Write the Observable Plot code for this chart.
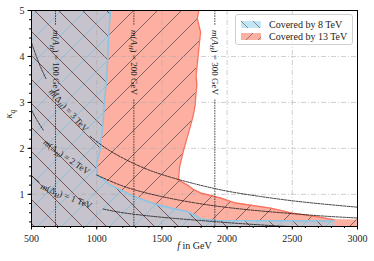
<!DOCTYPE html>
<html>
<head>
<meta charset="utf-8">
<script src="https://cdn.jsdelivr.net/npm/d3@7"></script>
<script src="https://cdn.jsdelivr.net/npm/@observablehq/plot@0.6"></script>
<style>
  html, body { margin: 0; padding: 0; background: white; }
  #wrap { position: relative; width: 374px; height: 261px; font-family: "Liberation Serif", serif; }
  #legend { position: absolute; left: 235px; top: 14px; width: 116px; height: 29px;
    border: 1px solid #cfcfcf; border-radius: 3px; background: rgba(255,255,255,0.85);
    font-size: 10px; color: #222; }
  .row { position: absolute; left: 5px; height: 12px; display: flex; align-items: center; white-space: nowrap; }
  .row svg { margin-right: 8px; }
</style>
</head>
<body>
<svg width="0" height="0" style="position:absolute">
  <defs>
    <pattern id="hatchRed" patternUnits="userSpaceOnUse" width="24" height="24">
      <path d="M-6,6L6,-6M0,24L24,0M18,30L30,18" stroke="#5a5050" stroke-width="0.8" fill="none"/>
    </pattern>
    <pattern id="hatchBlue" patternUnits="userSpaceOnUse" width="24" height="24">
      <path d="M-6,6L6,-6M0,24L24,0M18,30L30,18" stroke="#86bfdc" stroke-width="0.9" fill="none"/>
      <path d="M-6,18L6,30M0,0L24,24M18,-6L30,6" stroke="#6e4a46" stroke-width="0.9" fill="none"/>
    </pattern>
    <pattern id="swBlue" patternUnits="userSpaceOnUse" width="12" height="12">
      <path d="M-3,9L3,15M0,0L12,12M9,-3L15,3" stroke="#707070" stroke-width="0.8" fill="none"/>
    </pattern>
    <pattern id="swRed" patternUnits="userSpaceOnUse" width="12" height="12">
      <path d="M-3,3L3,-3M0,12L12,0M9,15L15,9" stroke="#707070" stroke-width="0.8" fill="none"/>
    </pattern>
  </defs>
</svg>
<div id="wrap">
  <div id="chart"></div>
  <div id="legend">
    <div class="row" style="top:3px"><svg width="20" height="7"><rect width="20" height="7" fill="#c3e6f5"/><rect width="20" height="7" fill="url(#swBlue)"/></svg><span id="leg1"></span></div>
    <div class="row" style="top:15px"><svg width="20" height="7"><rect width="20" height="7" fill="#fdb0a2"/><rect width="20" height="7" fill="url(#swRed)"/></svg><span id="leg2"></span></div>
  </div>
</div>
<script>
// ---- data ----
const xDomain = [500, 3000];
const yDomain = [0.3, 5];
const xTicks = [500, 1000, 1500, 2000, 2500, 3000];
const yTicks = [1, 2, 3, 4, 5];
const xMinor = d3.range(500, 3001, 100);
const yMinor = d3.range(0.4, 5.001, 0.2);
const xGrid = [1000, 1500, 2000, 2500];
const yGrid = [1, 2, 3, 4];
const legendLabels = ["Covered by 8 TeV", "Covered by 13 TeV"];
const xLabel = "f in GeV";
const yLabel = "κq";

// 13 TeV covered region boundary (kappa_q, f)
const redK = [5.0, 4.83, 4.53, 4.17, 3.81, 3.59, 3.38, 3.16, 2.94, 2.72, 2.5, 2.2, 1.96, 1.6, 1.31, 1.2, 1.1, 1.03, 0.92, 0.81, 0.70, 0.59, 0.51, 0.45, 0.44, 0.3];
const redF = [1783, 1771, 1796, 1783, 1770, 1762, 1768, 1760, 1755, 1740, 1720, 1690, 1666, 1635, 1627, 1697, 1745, 1796, 1950, 2065, 2333, 2502, 2694, 2817, 3000, 3000];

// 8 TeV covered region boundary (kappa_q, f)
const blueK = [5.0, 4.5, 3.77, 3.48, 3.05, 2.6, 2.33, 1.96, 1.68, 1.42, 1.2, 0.96, 0.77, 0.62, 0.50, 0.46, 0.43, 0.42, 0.3];
const blueF = [1106, 1093, 1081, 1075, 1060, 1050, 1040, 1025, 1000, 1006, 1106, 1282, 1466, 1697, 1780, 1800, 1900, 2820, 2835];

// m(Delta_H) contours, read as segments (gaps where the labels sit)
const contourSegs = [
  {name: "3A", f: [500, 555, 610], k: [4.30, 3.87, 3.52]},
  {name: "3B", f: [950, 1100, 1300, 1500, 1750, 2000, 2250, 2500, 2750, 3000], k: [2.26, 1.95, 1.65, 1.43, 1.23, 1.07, 0.955, 0.86, 0.785, 0.72]},
  {name: "2A", f: [500, 545, 590], k: [2.83, 2.60, 2.40]},
  {name: "2B", f: [1000, 1150, 1300, 1500, 1750, 2000, 2250, 2500, 2750, 3000], k: [1.42, 1.235, 1.09, 0.95, 0.815, 0.715, 0.64, 0.58, 0.525, 0.485]},
  {name: "1A", f: [500, 530, 560], k: [1.41, 1.33, 1.26]},
  {name: "1B", f: [1050, 1200, 1400, 1600, 1800, 2000, 2200, 2400, 2480], k: [0.68, 0.60, 0.53, 0.475, 0.43, 0.385, 0.345, 0.31, 0.30]}
];
const contourLabels = ["m(Δ_H) = 1 TeV", "m(Δ_H) = 2 TeV", "m(Δ_H) = 3 TeV"];
const contourLabelF = [768, 768, 784];
const contourLabelK = [0.96, 1.81, 2.83];
const contourLabelAngle = [22, 35, 48];

// m(A_H) vertical lines
const mAHf = [684, 1285, 1906];
const mAHlabels = ["m(A_H) = 100 GeV", "m(A_H) = 200 GeV", "m(A_H) = 300 GeV"];
const mAHlabelK = 3.87;
const mAHgap = [3.07, 4.68];

// ---- tables ----
const red = redK.map((k, i) => ({k, f: redF[i], f0: xDomain[0]}));
const blue = blueK.map((k, i) => ({k, f: blueF[i], f0: xDomain[0]}));
const contours = contourSegs.flatMap(s => s.f.map((f, i) => ({seg: s.name, f, k: s.k[i]})));
const cLabels = contourLabels.map((t, i) => ({t, f: contourLabelF[i], k: contourLabelK[i], a: contourLabelAngle[i]}));
const vRules = mAHf.flatMap(f => [{f, k1: yDomain[0], k2: mAHgap[0]}, {f, k1: mAHgap[1], k2: yDomain[1]}]);
const vLabels = mAHf.map((f, i) => ({f, k: mAHlabelK, t: mAHlabels[i]}));

const chart = Plot.plot({
  width: 374, height: 261,
  marginLeft: 31, marginRight: 17, marginTop: 10, marginBottom: 35,
  x: {domain: xDomain, label: null},
  y: {domain: yDomain, label: null},
  style: {fontFamily: "Liberation Serif", fontSize: "10px", color: "black", background: "white", overflow: "visible"},
  marks: [
    Plot.areaX(red, {y: "k", x1: "f0", x2: "f", fill: "#fdb0a2", curve: "linear"}),
    Plot.areaX(red, {y: "k", x1: "f0", x2: "f", fill: "url(#hatchRed)", curve: "linear"}),
    Plot.areaX(blue, {y: "k", x1: "f0", x2: "f", fill: "#c7c3cc", curve: "linear"}),
    Plot.areaX(blue, {y: "k", x1: "f0", x2: "f", fill: "url(#hatchBlue)", curve: "linear"}),
    Plot.gridX(xGrid, {stroke: "#a8a8a8", strokeOpacity: 0.55, strokeDasharray: "5,2,1,2"}),
    Plot.gridY(yGrid, {stroke: "#a8a8a8", strokeOpacity: 0.55, strokeDasharray: "5,2,1,2"}),
    Plot.line(red.filter(d => d.f < xDomain[1]), {x: "f", y: "k", stroke: "#f8735f", strokeWidth: 1.4}),
    Plot.line(blue.filter(d => d.k > 0.41), {x: "f", y: "k", stroke: "#88c6e6", strokeWidth: 1.6}),
    Plot.line(contours, {x: "f", y: "k", z: "seg", stroke: "#111", strokeWidth: 0.8, strokeDasharray: "2.5,1.2", curve: "natural"}),
    Plot.ruleX(vRules, {x: "f", y1: "k1", y2: "k2", stroke: "#333", strokeWidth: 0.9, strokeDasharray: "1.6,1"}),
    Plot.text(vLabels, {x: "f", y: "k", text: "t", rotate: 90, fontSize: 9, fill: "#222"}),
    Plot.text(cLabels, {x: "f", y: "k", text: "t", rotate: "a", fontSize: 9, fill: "#222"}),
    Plot.frame({stroke: "black", strokeWidth: 1}),
    Plot.axisX(xTicks, {tickSize: 3.5, tickPadding: 4.5, fontSize: 10, label: null, tickFormat: d => String(d), fill: "#222"}),
    Plot.axisX(xMinor, {tickSize: 2, tickFormat: () => "", label: null}),
    Plot.axisY(yTicks, {tickSize: 3.5, tickPadding: 3.5, fontSize: 10, label: null, tickFormat: d => String(d), fill: "#222"}),
    Plot.axisY(yMinor, {tickSize: 2, tickFormat: () => "", label: null}),
    Plot.text([xLabel], {frameAnchor: "bottom", dy: 22, fontSize: 10, fill: "#222"}),
    Plot.text([yLabel], {frameAnchor: "left", dx: -23, rotate: -90, fontSize: 10.5, fill: "#222"})
  ]
});
document.getElementById("chart").appendChild(chart);
document.getElementById("leg1").textContent = legendLabels[0];
document.getElementById("leg2").textContent = legendLabels[1];

// ---- rich text (italics and subscripts) ----
function segmentsFor(s) {
  if (s === xLabel) return [["f", "i"], [" in GeV", ""]];
  if (s === yLabel) return [["κ", "i"], ["q", "is"]];
  const m = s.match(/^m\((.)_(\w)\)(.*)$/);
  if (m) return [["m", "i"], ["(", ""], [m[1], m[1] === "Δ" ? "" : "i"], [m[2], "is"], [")" + m[3], ""]];
  return null;
}
d3.select(chart).selectAll("text").each(function() {
  const segs = segmentsFor(this.textContent);
  if (!segs) return;
  const el = d3.select(this);
  const fs = parseFloat(getComputedStyle(this).fontSize) || 10;
  el.text(null);
  let shifted = false;
  for (const [t, st] of segs) {
    const ts = el.append("tspan").text(t);
    if (st.includes("i")) ts.attr("font-style", "italic");
    if (st.includes("s")) { ts.attr("font-size", fs * 0.72).attr("dy", fs * 0.25); shifted = true; }
    else if (shifted) { ts.attr("dy", -fs * 0.25); shifted = false; }
  }
});
</script>
</body>
</html>
